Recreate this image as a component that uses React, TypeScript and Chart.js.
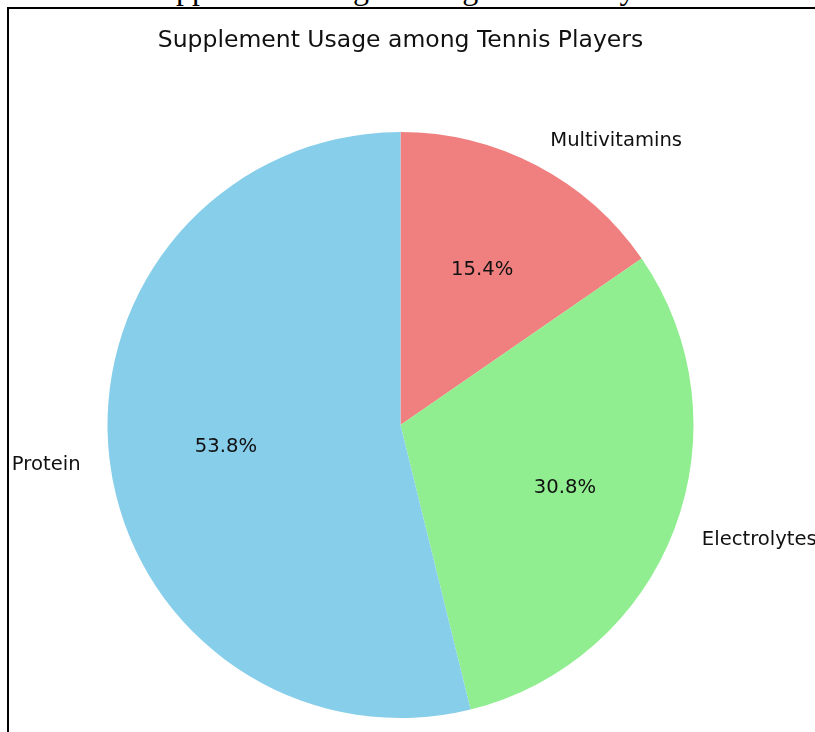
import React, { useEffect, useRef } from "react";
import { Chart, registerables } from "chart.js";

Chart.register(...registerables);

// Data in matplotlib order (counter-clockwise from top)
const categories = ["Protein", "Electrolytes", "Multivitamins"];
const usage = [35, 20, 10];
const sliceColors = ["#87CEEB", "#90EE90", "#F08080"];
const chartTitle = "Supplement Usage among Tennis Players";
const pageCaption = "Supplement Usage among Tennis Players";

const FONT = "'DejaVu Sans', sans-serif";

const labelPlugin = {
  id: "mplLabels",
  afterDatasetsDraw(chart: any) {
    const ctx = chart.ctx;
    const meta = chart.getDatasetMeta(0);
    const data = chart.data.datasets[0].data as number[];
    const labels = chart.data.labels as string[];
    const total = data.reduce((a, b) => a + b, 0);
    ctx.save();
    let cx = 0;
    meta.data.forEach((arc: any, i: number) => {
      const { startAngle, endAngle, x, y, outerRadius } = arc.getProps(
        ["startAngle", "endAngle", "x", "y", "outerRadius"],
        true
      );
      cx = x;
      const mid = (startAngle + endAngle) / 2;
      const c = Math.cos(mid);
      const s = Math.sin(mid);
      ctx.fillStyle = "#111";
      ctx.font = `19.6px ${FONT}`;
      ctx.textBaseline = "middle";
      ctx.textAlign = c >= 0 ? "left" : "right";
      ctx.fillText(labels[i], x + 1.1 * outerRadius * c, y + 1.1 * outerRadius * s + 1);
      ctx.textAlign = "center";
      const pct = ((data[i] / total) * 100).toFixed(1) + "%";
      ctx.fillText(pct, x + 0.6 * outerRadius * c, y + 0.6 * outerRadius * s + 1);
    });
    ctx.font = `23.5px ${FONT}`;
    ctx.textAlign = "center";
    ctx.textBaseline = "alphabetic";
    ctx.fillStyle = "#111";
    ctx.fillText(chartTitle, cx, 37.5);
    ctx.restore();
  },
};

export default function App() {
  const ref = useRef<HTMLCanvasElement | null>(null);

  useEffect(() => {
    if (!ref.current) return;
    // Chart.js draws clockwise, so reverse matplotlib's counter-clockwise order
    const labs = [...categories].reverse();
    const vals = [...usage].reverse();
    const cols = [...sliceColors].reverse();
    const chart = new Chart(ref.current, {
      type: "pie",
      data: {
        labels: labs,
        datasets: [
          {
            data: vals,
            backgroundColor: cols,
            borderWidth: 0,
          },
        ],
      },
      options: {
        animation: false,
        responsive: false,
        maintainAspectRatio: false,
        rotation: 0,
        layout: {
          padding: { left: 98.5, right: 121.5, top: 123, bottom: 14 },
        },
        plugins: {
          legend: { display: false },
          tooltip: { enabled: false },
          title: { display: false },
        },
      },
      plugins: [labelPlugin],
    });
    return () => chart.destroy();
  }, []);

  return (
    <div
      style={{
        position: "fixed",
        left: 0,
        top: 0,
        width: 815,
        height: 732,
        overflow: "hidden",
        background: "#fff",
      }}
    >
      <div
        style={{
          position: "absolute",
          left: 0,
          width: 815,
          top: -28.3,
          fontFamily: "'Liberation Serif', serif",
          fontSize: 32,
          lineHeight: "32px",
          textAlign: "center",
          whiteSpace: "nowrap",
          color: "#000",
        }}
      >
        {pageCaption}
      </div>
      <div
        style={{
          position: "absolute",
          left: 7,
          top: 7,
          width: 900,
          height: 800,
          border: "2px solid #000",
          background: "#fff",
          overflow: "hidden",
        }}
      >
        <canvas
          ref={ref}
          width={806}
          height={723}
          style={{ display: "block", width: 806, height: 723 }}
        />
      </div>
    </div>
  );
}
